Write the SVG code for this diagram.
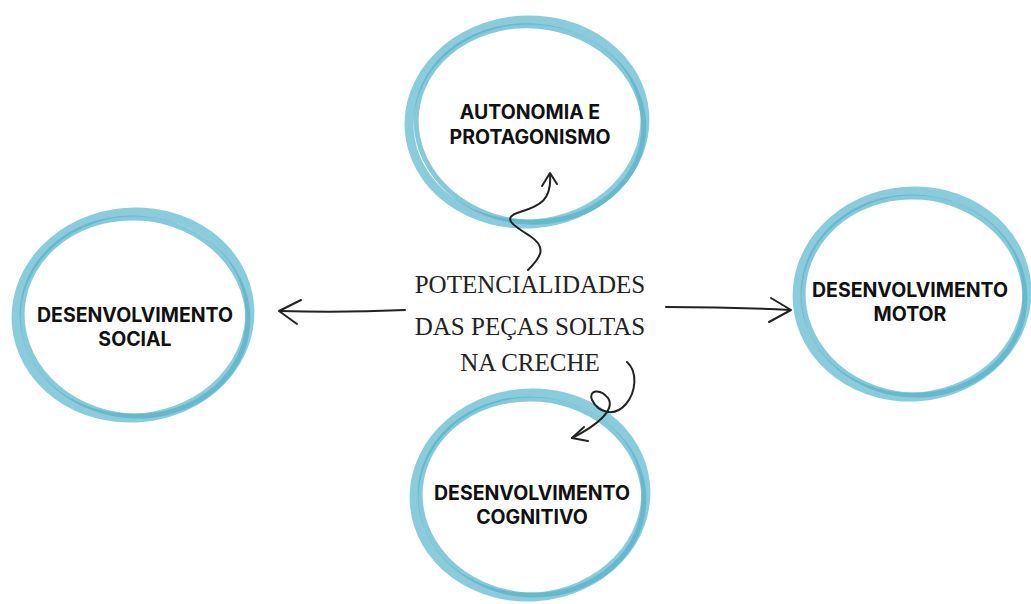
<svg xmlns="http://www.w3.org/2000/svg" width="1031" height="604" viewBox="0 0 1031 604">
<defs>
<style>
.ring1{fill:none;stroke:#7cc8d9;stroke-width:9;opacity:0.9}
.ring2{fill:none;stroke:#52b2c8;stroke-width:5;opacity:0.7}
.lbl{font-family:Inter,"Liberation Sans",sans-serif;font-weight:700;font-size:19.5px;fill:#111;text-anchor:middle}
.ctr{font-family:"Liberation Serif",serif;font-size:25px;fill:#222;text-anchor:middle}
.con{fill:none;stroke:#222;stroke-width:2;stroke-linecap:round;stroke-linejoin:round}
</style>
</defs>
<rect width="1031" height="604" fill="#fff"/>
<g id="node-autonomia">
<ellipse class="ring1" cx="527" cy="122" rx="118" ry="102" transform="rotate(-4 527 122)"/>
<ellipse class="ring2" cx="530" cy="124" rx="114" ry="98" transform="rotate(6 530 124)"/>
<text class="lbl" x="530" y="119">AUTONOMIA E</text>
<text class="lbl" x="530" y="144">PROTAGONISMO</text>
</g>
<g id="node-social">
<ellipse class="ring1" cx="133" cy="315" rx="117" ry="103" transform="rotate(-5 133 315)"/>
<ellipse class="ring2" cx="135" cy="317" rx="113" ry="99" transform="rotate(5 135 317)"/>
<text class="lbl" x="135" y="322">DESENVOLVIMENTO</text>
<text class="lbl" x="135" y="346">SOCIAL</text>
</g>
<g id="node-motor">
<ellipse class="ring1" cx="912" cy="294" rx="115" ry="103" transform="rotate(-5 912 294)"/>
<ellipse class="ring2" cx="914" cy="296" rx="111" ry="99" transform="rotate(5 914 296)"/>
<text class="lbl" x="910" y="297">DESENVOLVIMENTO</text>
<text class="lbl" x="910" y="321">MOTOR</text>
</g>
<g id="node-cognitivo">
<ellipse class="ring1" cx="530" cy="495" rx="116" ry="102" transform="rotate(-5 530 495)"/>
<ellipse class="ring2" cx="532" cy="497" rx="112" ry="98" transform="rotate(5 532 497)"/>
<text class="lbl" x="532" y="500">DESENVOLVIMENTO</text>
<text class="lbl" x="532" y="524">COGNITIVO</text>
</g>
<g id="node-center">
<text class="ctr" x="530" y="293">POTENCIALIDADES</text>
<text class="ctr" x="530" y="335">DAS PEÇAS SOLTAS</text>
<text class="ctr" x="530" y="371">NA CRECHE</text>
</g>
<g id="connectors">
<path class="con" d="M405 310 Q340 313 280 311"/>
<path class="con" d="M301 300 L279 311 L297 324"/>
<path class="con" d="M666 307 Q730 307 790 310"/>
<path class="con" d="M771 298 L791 310 L769 322"/>
<path class="con" d="M528 270 C540 258 548 248 530 236 C514 226 500 218 520 212 C540 206 552 200 550 174"/>
<path class="con" d="M542 186 L550 173 L557 184"/>
<path class="con" d="M627 362 C638 372 636 392 626 404 C614 418 598 412 592 400 C588 390 600 388 608 398 C616 410 596 426 572 438"/>
<path class="con" d="M584 427 L572 438 L588 441"/>
</g>
</svg>
